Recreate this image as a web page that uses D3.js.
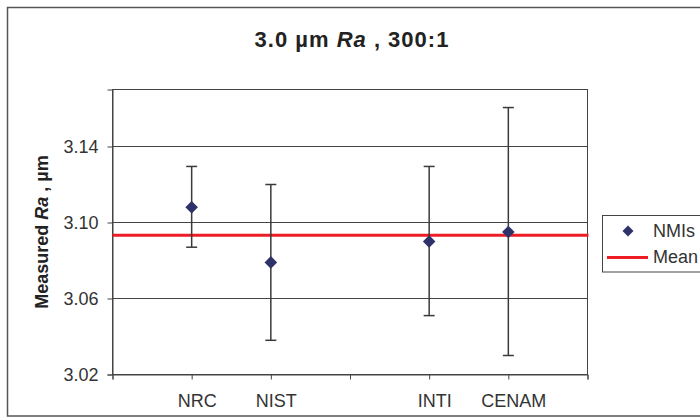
<!DOCTYPE html>
<html><head><meta charset="utf-8">
<script src="https://cdn.jsdelivr.net/npm/d3@7"></script>
<style>body{margin:0;background:#fff}svg{display:block;font-family:"Liberation Sans",Arial,sans-serif}</style>
</head><body>
<svg id="c" width="700" height="417"></svg>
<script>
const categories = ["", "NRC", "NIST", "", "INTI", "CENAM", ""];
const values = [null, 3.108, 3.079, null, 3.090, 3.095, null];
const upper  = [null, 3.1295, 3.120, null, 3.1295, 3.1605, null];
const lower  = [null, 3.087, 3.038, null, 3.051, 3.030, null];
const meanValue = 3.0933;
const yTicks = [3.02, 3.06, 3.10, 3.14];
const yDomain = [3.02, 3.17];
const legendLabels = ["NMIs", "Mean"];

const svg = d3.select("#c");
const L = 112.5, R = 587.5, T = 89.5, B = 374.5;
const x = d3.scalePoint().domain(d3.range(categories.length)).range([L, R]);
const y = d3.scaleLinear().domain(yDomain).range([B, T]);
const dark = "#3a3a3a", navy = "#2f3268", red = "#ee1c25";
const FS = 18;

// outer frame
svg.append("rect").attr("x", 7.5).attr("y", 7.5).attr("width", 720).attr("height", 408.5)
  .attr("fill", "#fff").attr("stroke", "#555").attr("stroke-width", 1.5);

// title
const title = svg.append("text").attr("x", 352).attr("y", 47).attr("text-anchor", "middle")
  .attr("font-size", 22).attr("font-weight", "bold").attr("letter-spacing", 1).attr("fill", "#222");
title.append("tspan").text("3.0 \u00b5m ");
title.append("tspan").attr("font-style", "italic").text("Ra");
title.append("tspan").text(" , 300:1");

// gridlines
svg.append("g").selectAll("line").data(yTicks.slice(1)).join("line")
  .attr("x1", L).attr("x2", R).attr("y1", d => Math.round(y(d)) + 0.5).attr("y2", d => Math.round(y(d)) + 0.5)
  .attr("stroke", "#444").attr("stroke-width", 1);

// plot border
svg.append("rect").attr("x", L).attr("y", T).attr("width", R - L).attr("height", B - T)
  .attr("fill", "none").attr("stroke", "#444").attr("stroke-width", 1);

// axes
const yAxis = svg.append("g").attr("transform", `translate(${L},0)`)
  .call(d3.axisLeft(y).tickValues(yTicks).tickFormat(d3.format(".2f")).tickSize(5).tickPadding(9));
yAxis.select(".domain").attr("stroke", "#444");
yAxis.selectAll(".tick line").attr("stroke", "#444");
yAxis.selectAll("text").attr("font-size", FS).attr("fill", "#333").attr("font-family", "Liberation Sans, Arial, sans-serif");

const xAxis = svg.append("g").attr("transform", `translate(0,${B})`)
  .call(d3.axisBottom(x).tickFormat(i => categories[i]).tickSize(5).tickSizeOuter(5).tickPadding(15));
xAxis.select(".domain").attr("stroke", "#444");
xAxis.selectAll(".tick line").attr("stroke", "#444");
xAxis.selectAll("text").attr("font-size", FS).attr("fill", "#333").attr("dx", 5)
  .attr("font-family", "Liberation Sans, Arial, sans-serif");

// y label
const yl = svg.append("text").attr("transform", "translate(48,232) rotate(-90)").attr("text-anchor", "middle")
  .attr("font-size", FS).attr("font-weight", "bold").attr("fill", "#222");
yl.append("tspan").text("Measured ");
yl.append("tspan").attr("font-style", "italic").text("Ra");
yl.append("tspan").text(" , \u00b5m");

// mean line
svg.append("line").attr("x1", L).attr("x2", R + 1).attr("y1", y(meanValue)).attr("y2", y(meanValue))
  .attr("stroke", red).attr("stroke-width", 3);

// error bars
const idx = d3.range(categories.length).filter(i => values[i] != null);
const eb = svg.append("g").attr("stroke", dark).attr("stroke-width", 1.5);
idx.forEach(i => {
  const cx = x(i);
  eb.append("line").attr("x1", cx).attr("x2", cx).attr("y1", y(upper[i])).attr("y2", y(lower[i]));
  eb.append("line").attr("x1", cx - 5.5).attr("x2", cx + 5.5).attr("y1", y(upper[i])).attr("y2", y(upper[i]));
  eb.append("line").attr("x1", cx - 5.5).attr("x2", cx + 5.5).attr("y1", y(lower[i])).attr("y2", y(lower[i]));
});

// diamonds
const dia = "M0,-6.3L6.3,0L0,6.3L-6.3,0Z";
svg.append("g").selectAll("path").data(idx).join("path")
  .attr("d", dia).attr("transform", i => `translate(${x(i)},${y(values[i])})`).attr("fill", navy);

// legend
const lg = svg.append("g");
lg.append("rect").attr("x", 602.5).attr("y", 215.5).attr("width", 120).attr("height", 56.5)
  .attr("fill", "#fff").attr("stroke", "#444");
lg.append("path").attr("d", "M0,-5.5L5.5,0L0,5.5L-5.5,0Z").attr("transform", "translate(628,231)").attr("fill", navy);
lg.append("line").attr("x1", 607).attr("x2", 648).attr("y1", 257.5).attr("y2", 257.5).attr("stroke", red).attr("stroke-width", 3);
lg.selectAll("text").data(legendLabels).join("text")
  .attr("x", 653).attr("y", (d, i) => 237 + i * 26.3).attr("font-size", FS).attr("fill", "#333").text(d => d);
</script>
</body></html>
